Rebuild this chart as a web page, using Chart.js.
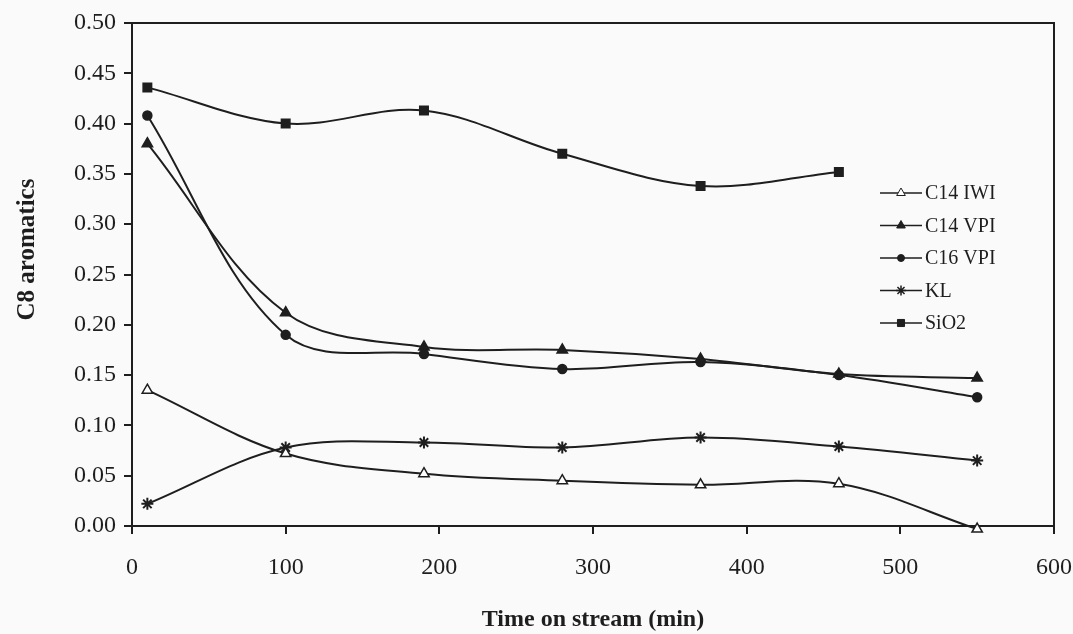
<!DOCTYPE html>
<html>
<head>
<meta charset="utf-8">
<script src="https://cdn.jsdelivr.net/npm/chart.js@4"></script>
<style>
  html, body { margin: 0; padding: 0; background: #fafafa; }
  #wrap { width: 1073px; height: 634px; }
</style>
</head>
<body>
<div id="wrap"><canvas id="c8Chart"></canvas></div>
<script>
const ctx = document.getElementById('c8Chart').getContext('2d');

// time on stream (min)
const timeMin = [10, 100, 190, 280, 370, 460, 550];

// C8 aromatics for each catalyst
const c14iwi = [0.135, 0.072, 0.052, 0.045, 0.041, 0.042, -0.003];
const c14vpi = [0.380, 0.212, 0.178, 0.175, 0.166, 0.151, 0.147];
const c16vpi = [0.408, 0.190, 0.171, 0.156, 0.163, 0.150, 0.128];
const kl     = [0.022, 0.078, 0.083, 0.078, 0.088, 0.079, 0.065];
const sio2   = [0.436, 0.400, 0.413, 0.370, 0.338, 0.352];

const seriesNames = ['C14 IWI', 'C14 VPI', 'C16 VPI', 'KL', 'SiO2'];

const ink = '#1e1e1e';
const serif = '"Liberation Serif", "Times New Roman", serif';

const toPoints = vals => vals.map((v, i) => ({ x: timeMin[i], y: v }));

function series(label, vals, style, radius, fill) {
  return {
    label,
    data: toPoints(vals),
    showLine: true,
    tension: 0.35,
    borderColor: ink,
    borderWidth: 2,
    pointStyle: style,
    pointRadius: radius,
    pointBorderColor: ink,
    pointBorderWidth: style === 'star' ? 2 : 1.5,
    pointBackgroundColor: fill,
    clip: 12
  };
}

// box around the plot area
const framePlugin = {
  id: 'frame',
  beforeDatasetsDraw(chart) {
    const { ctx, chartArea: a } = chart;
    ctx.save();
    ctx.strokeStyle = ink;
    ctx.lineWidth = 2;
    ctx.strokeRect(a.left, a.top, a.right - a.left, a.bottom - a.top);
    ctx.restore();
  }
};

// legend drawn inside the plot, right side
const legendPlugin = {
  id: 'innerLegend',
  afterDatasetsDraw(chart) {
    const { ctx } = chart;
    ctx.save();
    ctx.font = `20px ${serif}`;
    ctx.textBaseline = 'middle';
    chart.data.datasets.forEach((ds, i) => {
      const y = 193 + i * 32.5;
      ctx.strokeStyle = ink;
      ctx.lineWidth = 1.5;
      ctx.beginPath();
      ctx.moveTo(880, y);
      ctx.lineTo(922, y);
      ctx.stroke();
      ctx.fillStyle = ds.pointBackgroundColor;
      ctx.strokeStyle = ink;
      ctx.lineWidth = ds.pointStyle === 'star' ? 1.5 : 1;
      Chart.helpers.drawPoint(ctx, {
        pointStyle: ds.pointStyle,
        radius: ds.pointStyle === 'circle' ? 3.5 : 5,
        rotation: 0,
        borderWidth: 1
      }, 901, y);
      ctx.fillStyle = ink;
      ctx.fillText(seriesNames[i], 925, y + 1);
    });
    ctx.restore();
  }
};

new Chart(ctx, {
  type: 'scatter',
  data: {
    datasets: [
      series(seriesNames[0], c14iwi, 'triangle', 6, '#ffffff'),
      series(seriesNames[1], c14vpi, 'triangle', 6, ink),
      series(seriesNames[2], c16vpi, 'circle', 4.5, ink),
      series(seriesNames[3], kl, 'star', 6, ink),
      series(seriesNames[4], sio2, 'rect', 6, ink)
    ]
  },
  options: {
    responsive: true,
    maintainAspectRatio: false,
    animation: false,
    layout: { padding: { top: 23, right: 19, left: 0, bottom: 0 } },
    scales: {
      x: {
        type: 'linear',
        min: 0,
        max: 600,
        afterFit: s => { s.height = 108; s.paddingRight = 0; s.paddingLeft = 0; },
        ticks: {
          stepSize: 100,
          color: ink,
          padding: 19,
          maxRotation: 0,
          font: { family: serif, size: 24 }
        },
        grid: { drawOnChartArea: false, drawTicks: true, tickLength: 8, color: ink, lineWidth: 2 },
        border: { display: true, color: ink, width: 2 },
        title: {
          display: true,
          text: 'Time on stream (min)',
          color: ink,
          padding: { top: 0, bottom: 0 },
          font: { family: serif, size: 24, weight: 'bold' }
        }
      },
      y: {
        type: 'linear',
        min: 0,
        max: 0.5,
        afterFit: s => { s.width = 132; },
        ticks: {
          stepSize: 0.05,
          color: ink,
          padding: 8,
          callback: v => v.toFixed(2),
          font: { family: serif, size: 24 }
        },
        grid: { drawOnChartArea: false, drawTicks: true, tickLength: 8, color: ink, lineWidth: 2 },
        border: { display: true, color: ink, width: 2 },
        title: {
          display: true,
          text: '\u00a0\u00a0\u00a0\u00a0\u00a0\u00a0\u00a0\u00a0C8 aromatics',
          color: ink,
          padding: { top: 13, bottom: 0 },
          font: { family: serif, size: 25, weight: 'bold' }
        }
      }
    },
    plugins: {
      legend: { display: false },
      tooltip: { enabled: false }
    }
  },
  plugins: [framePlugin, legendPlugin]
});
</script>
</body>
</html>
